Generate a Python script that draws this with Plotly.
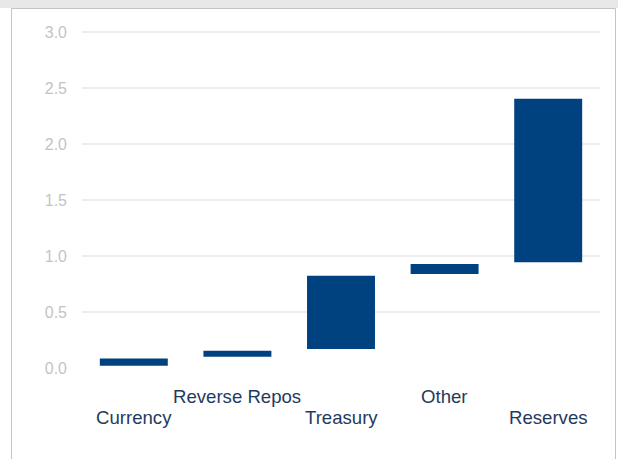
import plotly.graph_objects as go

categories = ["Currency", "Reverse Repos", "Treasury", "Other", "Reserves"]
bar_start = [0.02, 0.10, 0.17, 0.84, 0.945]
bar_end = [0.085, 0.155, 0.825, 0.93, 2.405]
y_ticks = [0.0, 0.5, 1.0, 1.5, 2.0, 2.5, 3.0]

W, H = 618, 459
L, R, T, B = 82, 18, 31, 91
pw, ph = W - L - R, H - T - B

def px_x(p):
    return (p - L) / pw

def px_y(p):
    return (H - B - p) / ph

heights = [e - s for s, e in zip(bar_start, bar_end)]

fig = go.Figure()
fig.add_trace(go.Bar(
    x=categories, y=heights, base=bar_start,
    marker=dict(color="#00427F", line=dict(width=0)),
    hoverinfo="skip",
))

annotations = []
for i, c in enumerate(categories):
    shift = -28 if i % 2 == 1 else -49
    annotations.append(dict(
        x=c, xref="x", y=0, yref="paper", yanchor="middle", xanchor="center",
        yshift=shift, text=c, showarrow=False,
        font=dict(family="Liberation Sans, Arial", size=18.6, color="#1F3A5F"),
    ))

shapes = [
    dict(type="rect", xref="paper", yref="paper",
         x0=px_x(0), x1=px_x(W), y0=px_y(8), y1=px_y(0),
         fillcolor="#E8E8E8", line=dict(width=0), layer="below"),
    dict(type="rect", xref="paper", yref="paper",
         x0=px_x(11.5), x1=px_x(615.5), y0=px_y(470), y1=px_y(8.5),
         fillcolor="rgba(0,0,0,0)", line=dict(color="#C4C4C4", width=1), layer="below"),
]

fig.update_layout(
    width=W, height=H,
    margin=dict(l=L, r=R, t=T, b=B, pad=0),
    paper_bgcolor="white", plot_bgcolor="white",
    showlegend=False, bargap=0.344,
    annotations=annotations, shapes=shapes,
    font=dict(family="Liberation Sans, Arial"),
)
fig.update_xaxes(showticklabels=False, showgrid=False, zeroline=False, showline=False,
                 ticks="")
fig.update_yaxes(range=[0, 3.01], tickvals=y_ticks, ticktext=[f"{v:.1f}" for v in y_ticks],
                 showgrid=True, gridcolor="#EDEDED", gridwidth=1.5,
                 zeroline=True, zerolinecolor="white", showline=False,
                 ticks="", ticklabelstandoff=14,
                 tickfont=dict(family="Liberation Sans, Arial", size=16, color="#C4C4C4"))

fig.write_html("out.html")
